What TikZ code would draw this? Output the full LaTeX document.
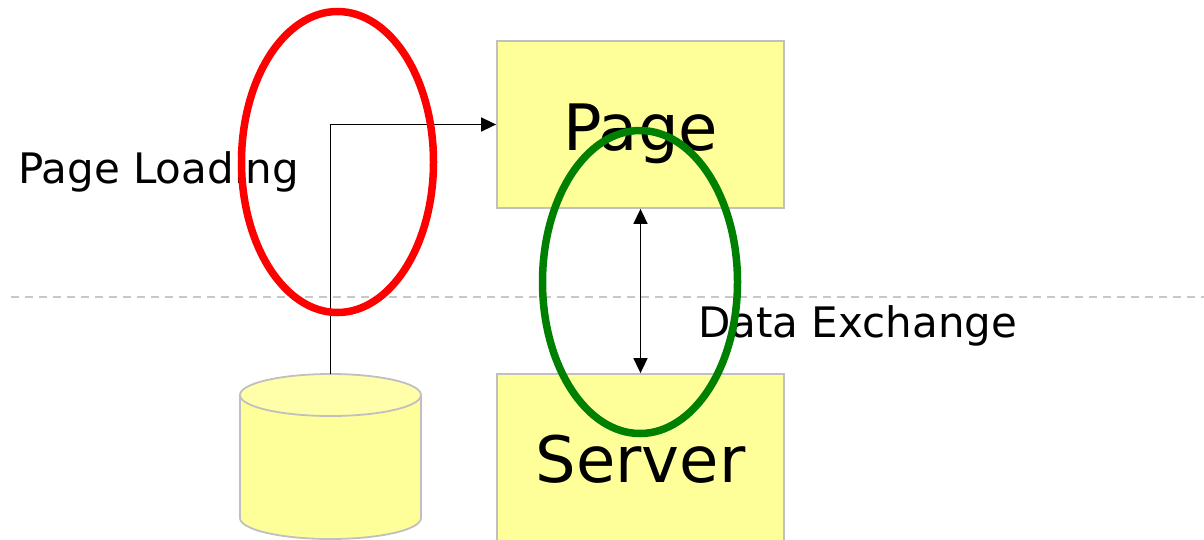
\documentclass[tikz,border=0pt]{standalone}
\usepackage{fontspec}
\setmainfont{DejaVu Sans}
\usetikzlibrary{arrows.meta}
\definecolor{boxfill}{HTML}{FFFF99}
\definecolor{boxtop}{HTML}{FFFFAA}
\definecolor{boxline}{HTML}{C0C0C0}
\definecolor{sepline}{HTML}{C8C8C8}
\definecolor{ringred}{HTML}{FF0000}
\definecolor{ringgreen}{HTML}{008000}
\tikzset{
  box/.style={draw=boxline, fill=boxfill, line width=1.8pt, inner sep=0pt, minimum width=287pt, font=\fontsize{64}{70}\selectfont},
  lbl/.style={anchor=base west, inner sep=0pt, font=\fontsize{42}{50}\selectfont},
  conn/.style={line width=1.6pt, -{Triangle[length=15pt,width=14pt]}},
  biconn/.style={line width=1.6pt, {Triangle[length=15pt,width=14pt]}-{Triangle[length=15pt,width=14pt]}},
  ring/.style={line width=7.5pt},
  sep/.style={draw=sepline, line width=1.6pt, dash pattern=on 8pt off 6pt},
  dbline/.style={draw=boxline, line width=1.8pt}
}
\begin{document}
\begin{tikzpicture}[x=1pt, y=-1pt]
\clip (0,0) rectangle (1204,539);
\fill[white] (0,0) rectangle (1204,539);
% separator
\coordinate (sepA) at (11,297);
\coordinate (sepB) at (1204,297);
\draw[sep] (sepA) -- (sepB);
% boxes
\node[box, minimum height=167pt, text height=51pt, text depth=0pt] (page) at (640.5,124.5) {Page};
\node[box, minimum height=186pt, text height=30pt, text depth=0pt] (server) at (640.5,467) {Server};
% database cylinder
\filldraw[dbline, fill=boxfill] (240,395) -- (240,518) arc[start angle=180, end angle=0, x radius=90.5, y radius=21] -- (421,395) -- cycle;
\filldraw[dbline, fill=boxtop] (330.5,395) ellipse[x radius=90.5, y radius=21];
\coordinate (dbtop) at (330.5,374);
% labels
\node[lbl] (loading) at (18,183) {Page Loading};
\node[lbl] (exchange) at (698,337) {Data Exchange};
% connectors
\draw[conn] (dbtop) |- (page.west);
\draw[biconn] (page.south) -- (server.north);
% rings
\draw[ring, ringred] (337.5,162) ellipse[x radius=96, y radius=150.5];
\draw[ring, ringgreen] (640,282) ellipse[x radius=97.5, y radius=151.5];
\end{tikzpicture}
\end{document}
